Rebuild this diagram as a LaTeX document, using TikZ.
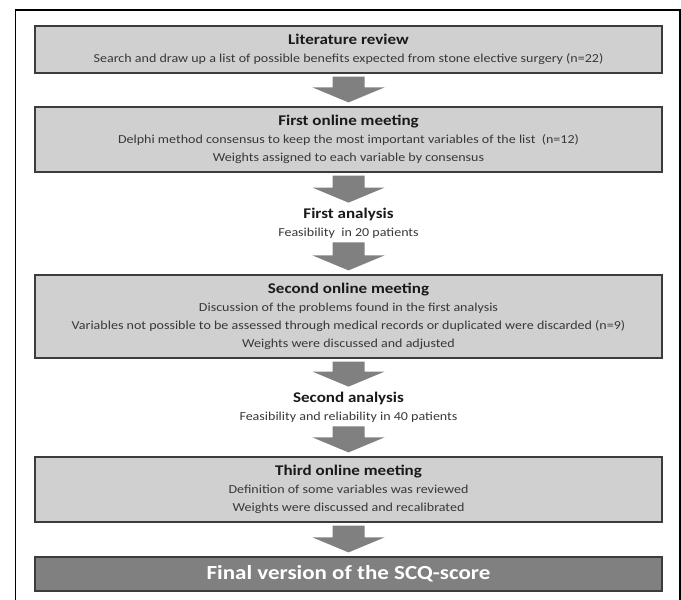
\documentclass[tikz,border=0pt]{standalone}
\usepackage{fontspec}
\setmainfont{Carlito}[FakeStretch=1.15]
\usetikzlibrary{calc}

\definecolor{boxgray}{HTML}{D0D0D0}
\definecolor{edgegray}{HTML}{3C3C3C}
\definecolor{arrowgray}{HTML}{808080}
\newcommand{\hd}[1]{{\fontsize{14.8}{19}\selectfont\bfseries\color{black!90}#1}}
\newcommand{\blockarrow}[2]{\fill[arrowgray] ($(#1.south)+(-16,3)$) -- ($(#1.south)+(16,3)$) -- ($(#2.north)+(16,-19)$) -- ($(#2.north)+(36,-19)$) -- ($(#2.north)+(0,-4)$) -- ($(#2.north)+(-36,-19)$) -- ($(#2.north)+(-16,-19)$) -- cycle;}

\begin{document}
\begin{tikzpicture}[x=1pt,y=-1pt,
  stage/.style={draw=edgegray,line width=1.2pt,fill=boxgray,minimum width=627pt,align=center,inner sep=2pt,font=\fontsize{12.2}{18}\selectfont,text=black!78},
  result/.style={align=center,inner sep=1pt,font=\fontsize{12.2}{18}\selectfont,text=black!78},
  final/.style={draw=edgegray,line width=1.2pt,fill=arrowgray,minimum width=627pt,minimum height=34pt,text=white,font=\fontsize{20}{22}\selectfont\bfseries}]
\useasboundingbox (0,0) rectangle (681,600);
\draw[line width=1.5pt] (15.5,606) -- (15.5,10) -- (680,10) -- (680,606);
\node[stage,minimum height=47pt] (lit) at (348.5,49.5) {\hd{Literature review}\\Search and draw up a list of possible benefits expected from stone elective surgery (n=22)};
\node[stage,minimum height=65pt] (meet1) at (348.5,139.5) {\hd{First online meeting}\\Delphi method consensus to keep the most important variables of the list\ \ (n=12)\\Weights assigned to each variable by consensus};
\node[result] (ana1) at (348.5,223) {\hd{First analysis}\\Feasibility\ \ in 20 patients};
\node[stage,minimum height=83pt] (meet2) at (348.5,316.5) {\hd{Second online meeting}\\Discussion of the problems found in the first analysis\\Variables not possible to be assessed through medical records or duplicated were discarded (n=9)\\Weights were discussed and adjusted};
\node[result] (ana2) at (348.5,407) {\hd{Second analysis}\\Feasibility and reliability in 40 patients};
\node[stage,minimum height=65pt] (meet3) at (348.5,489.5) {\hd{Third online meeting}\\Definition of some variables was reviewed\\Weights were discussed and recalibrated};
\node[final] (score) at (348.5,574) {Final version of the SCQ-score};
\blockarrow{lit}{meet1}
\blockarrow{meet1}{ana1}
\blockarrow{ana1}{meet2}
\blockarrow{meet2}{ana2}
\blockarrow{ana2}{meet3}
\blockarrow{meet3}{score}
\end{tikzpicture}
\end{document}
